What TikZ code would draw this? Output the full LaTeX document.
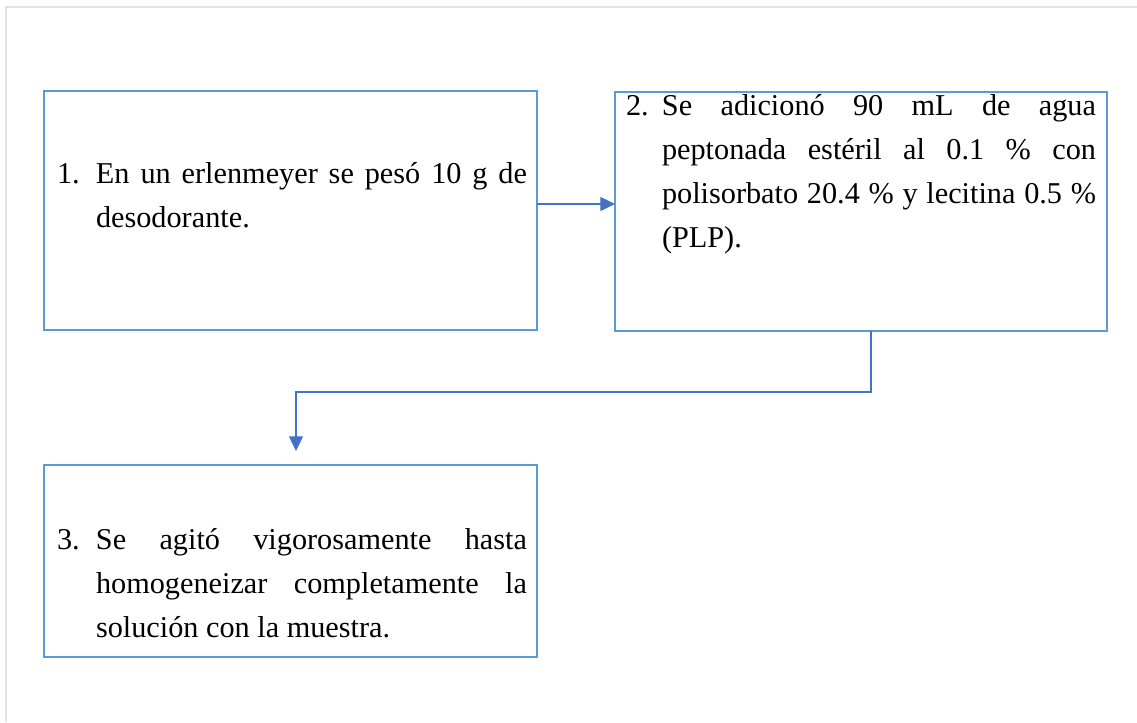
\documentclass[tikz,border=0pt]{standalone}
\usepackage{fontspec}
\setmainfont{Liberation Serif}
\usetikzlibrary{arrows.meta,calc}
\definecolor{boxblue}{HTML}{5B9BD5}
\definecolor{linkblue}{HTML}{4472C4}
\definecolor{pagegray}{HTML}{E4E4E4}
% numbered step paragraph with a hanging indent: [indent]{number}{text}
\newcommand{\stepitem}[3][29.25pt]{\hyphenpenalty=10000\exhyphenpenalty=10000
  \hangindent=#1\hangafter=1\strut\makebox[#1][l]{#2}#3\par}
\tikzset{
  stepbox/.style={draw=boxblue, line width=2pt, rectangle, inner sep=0pt, outer sep=0pt},
  steptext/.style={anchor=north west, inner sep=0pt, outer sep=0pt, text width=352.5pt,
    align=justify, font=\fontsize{22.7pt}{33pt}\selectfont},
  conn/.style={draw=linkblue, line width=0.95pt, -{Triangle[length=11pt,width=10.5pt]}},
}
\begin{document}
\begin{tikzpicture}[x=0.75pt,y=-0.75pt]
\useasboundingbox (0,0) rectangle (1137,722);
% page frame
\draw[pagegray, line width=1.6pt] (6,722) -- (6,7) -- (1137,7);
% step boxes
\node[stepbox, minimum width=0.75pt*493, minimum height=0.75pt*239] (b1) at (290.5,210.5) {};
\node[stepbox, minimum width=0.75pt*492, minimum height=0.75pt*239] (b2) at (861,211.5) {};
\node[stepbox, minimum width=0.75pt*493, minimum height=0.75pt*192] (b3) at (290.5,561) {};
% step texts
\node[steptext] (t1) at (57,153) {\stepitem{1.}{En un erlenmeyer se pesó 10~g de desodorante.}};
\node[steptext] (t2) at (626,85) {\stepitem[27pt]{2.}{Se adicionó 90~mL de agua peptonada estéril al 0.1~\% con polisorbato 20.4~\% y lecitina 0.5~\% (PLP).}};
\node[steptext] (t3) at (57,519) {\stepitem{3.}{Se agitó vigorosamente hasta homogeneizar completamente la solución con la muestra.}};
% connectors
\draw[conn] ($(b1.east)+(0,-6.5)$) -- ($(b2.west)+(0,-7.5)$);
\draw[conn] ($(b2.south)+(10,0)$) -- ++(0,61) -| ($(b3.north)+(5.5,-14)$);
\end{tikzpicture}
\end{document}
